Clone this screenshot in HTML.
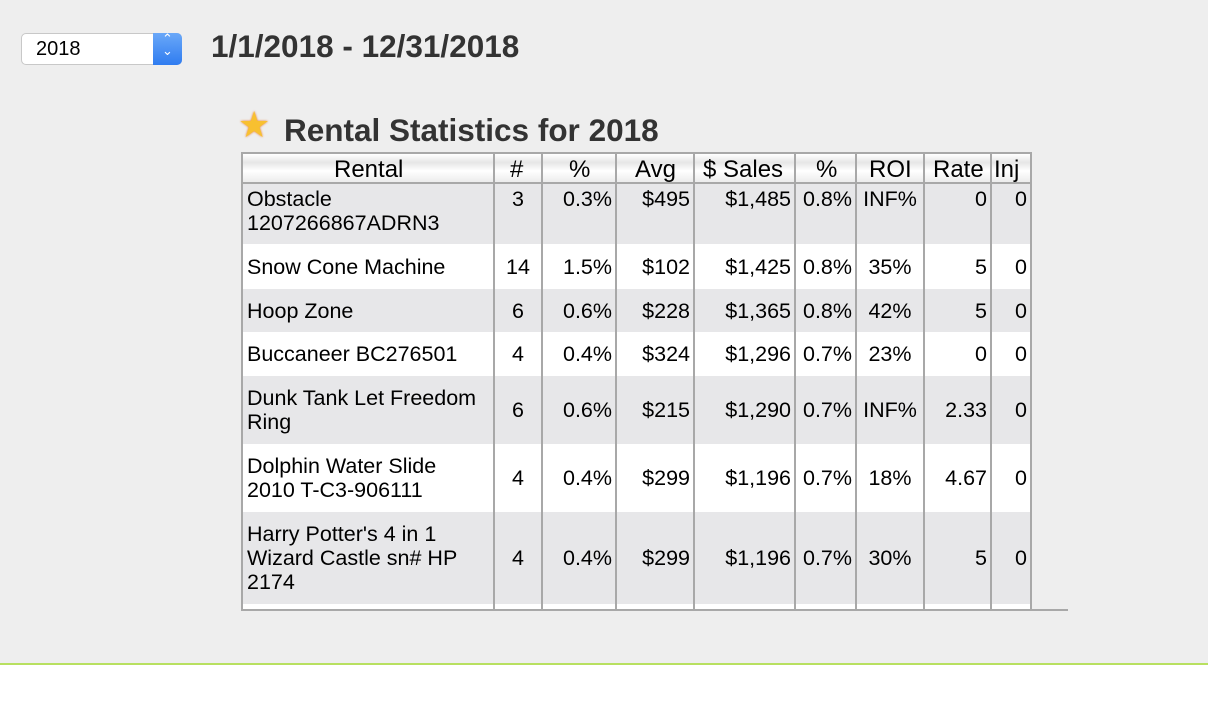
<!DOCTYPE html>
<html><head><style>
body{margin:0;width:1208px;height:722px;background:#fff;font-family:"Liberation Sans",Arial,sans-serif;position:relative;overflow:hidden}
#bg{position:absolute;left:0;top:0;width:1208px;height:663px;background:#eeeeee;border-bottom:2px solid #b8e060}
.sel{position:absolute;left:21px;top:33px;width:161px;height:32px;background:#fff;border:1px solid #c8c8c8;border-radius:5px;box-sizing:border-box;font-size:20px;line-height:30px;padding-left:14px}
.sel .b{position:absolute;right:-1px;top:-1px;width:29px;height:32px;background:linear-gradient(#6aa8f8,#2f7cf0);border-radius:0 5px 5px 0;color:#fff;font-size:13px;line-height:12px;text-align:center}
h1{position:absolute;left:211px;top:28px;margin:0;font-size:31.5px;font-weight:bold;color:#333}
h2{position:absolute;left:284px;top:112px;margin:0;font-size:31.5px;font-weight:bold;color:#333}
.star{position:absolute;left:238px;top:104px;font-size:36px;color:#f8c030;text-shadow:0 0 2px #e87020}
.c{position:absolute;font-size:21.5px;line-height:24px;color:#000;display:flex;align-items:center;height:100%;top:0;white-space:nowrap}
.vl{position:absolute;top:152px;height:457px;width:2px;background:#a8a8a8}
.hd{position:absolute;left:241px;top:152px;width:791px;height:32px;background:linear-gradient(#fff 0%,#e6e6e6 30%,#fff 60%,#ececec 100%);border-top:2px solid #a8a8a8;border-bottom:2px solid #a8a8a8;box-sizing:border-box}
.hd span{position:absolute;top:3px;font-size:24px;line-height:26px}
</style></head><body>
<div id="bg"></div>
<div class="sel">2018<div class="b">⌃<br>⌄</div></div>
<h1>1/1/2018 - 12/31/2018</h1>
<div class="star">★</div>
<h2>Rental Statistics for 2018</h2>
<div class="hd">
<span style="left:93px">Rental</span><span style="left:269px">#</span><span style="left:328px">%</span><span style="left:394px">Avg</span><span style="left:462px">$ Sales</span><span style="left:575px">%</span><span style="left:628px">ROI</span><span style="left:692px">Rate</span><span style="left:753px">Inj</span>
</div>
<div id="rows"></div>
<div style="position:absolute;left:241px;top:609px;width:827px;height:2px;background:#a8a8a8"></div>
<script>
var rows=[
[184,60,"#e7e7e9",["Obstacle<br>1207266867ADRN3","3","0.3%","$495","$1,485","0.8%","INF%","0","0"],1],
[244,45,"#fff",["Snow Cone Machine","14","1.5%","$102","$1,425","0.8%","35%","5","0"]],
[289,43,"#e7e7e9",["Hoop Zone","6","0.6%","$228","$1,365","0.8%","42%","5","0"]],
[332,44,"#fff",["Buccaneer BC276501","4","0.4%","$324","$1,296","0.7%","23%","0","0"]],
[376,68,"#e7e7e9",["Dunk Tank Let Freedom<br>Ring","6","0.6%","$215","$1,290","0.7%","INF%","2.33","0"]],
[444,68,"#fff",["Dolphin Water Slide<br>2010 T-C3-906111","4","0.4%","$299","$1,196","0.7%","18%","4.67","0"]],
[512,92,"#e7e7e9",["Harry Potter's 4 in 1<br>Wizard Castle sn# HP<br>2174","4","0.4%","$299","$1,196","0.7%","30%","5","0"]],
[604,5,"#fff",["","","","","","","","",""]]];
var cols=[241,493,541,615,693,794,855,923,990,1030];
var al=["l","c","r","r","r","r","c","r","r"];
var h="";
rows.forEach(function(r){
 h+='<div style="position:absolute;left:241px;top:'+r[0]+'px;width:791px;height:'+r[1]+'px;background:'+r[2]+'">';
 r[3].forEach(function(t,i){
  var l=cols[i]-241+2,w=cols[i+1]-cols[i]-2;
  var ja=al[i]=="l"?"flex-start":al[i]=="c"?"center":"flex-end";
  var pad=i==0?4:3;
  h+='<div class="c" style="left:'+(l+pad)+'px;width:'+(w-2*pad)+'px;justify-content:'+ja+';align-items:'+(r[4]?'flex-start':'center')+';text-align:'+(al[i]=="l"?"left":"right")+'"><div style="'+(r[4]?'margin-top:3px':'')+'">'+t+'</div></div>';
 });
 h+='</div>';
});
cols.forEach(function(x){h+='<div class="vl" style="left:'+x+'px"></div>';});
document.getElementById("rows").innerHTML=h;
</script>
</body></html>
